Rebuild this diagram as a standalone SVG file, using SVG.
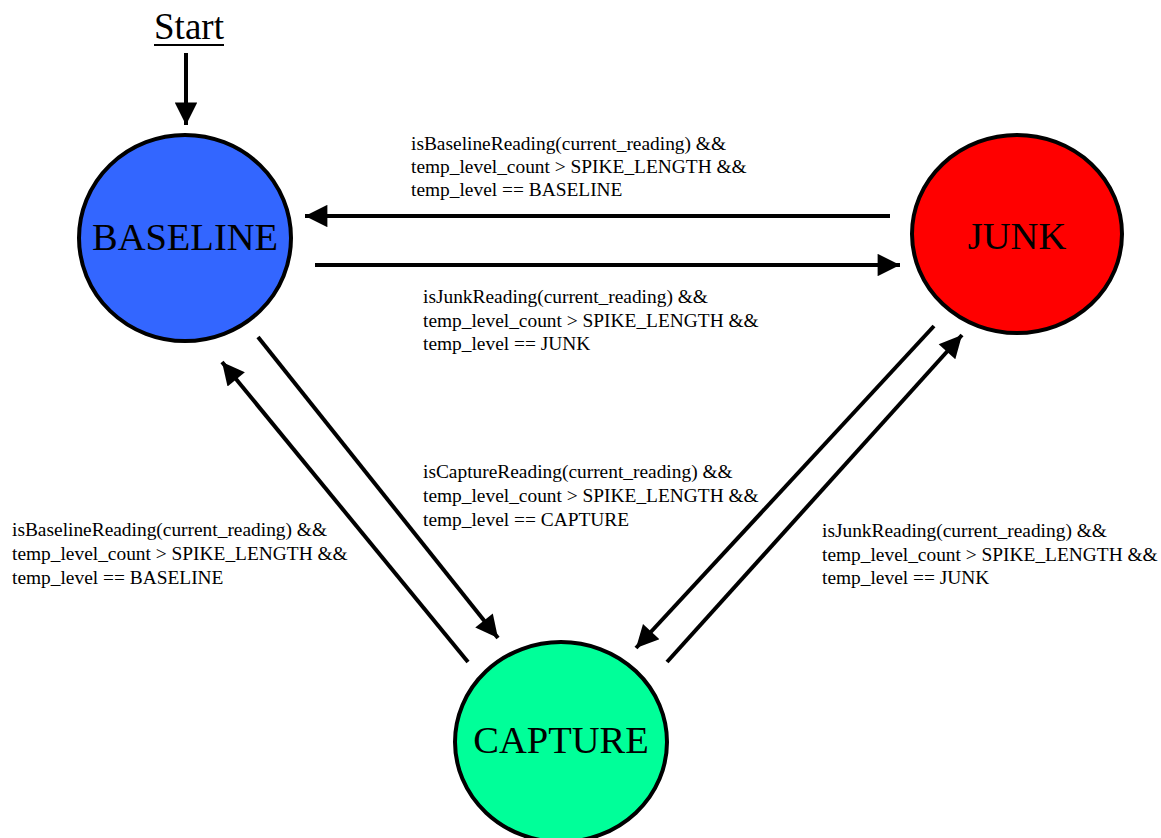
<svg xmlns="http://www.w3.org/2000/svg" width="1161" height="838" viewBox="0 0 1161 838">
<defs>
<marker id="ah" viewBox="0 0 10 10" refX="10" refY="5" markerWidth="6.2" markerHeight="5.6" markerUnits="strokeWidth" orient="auto">
<path d="M0,0 L10,5 L0,10 z" fill="#000"/>
</marker>
<style>
.st{stroke:#000;stroke-width:4;}
.nt{font-family:'Liberation Serif','Times New Roman',serif;font-size:38.5px;fill:#000;text-anchor:middle;}
.lb{font-family:'Liberation Serif','Times New Roman',serif;font-size:19.4px;fill:#000;}
.cn{stroke:#000;stroke-width:4;fill:none;marker-end:url(#ah);}
</style>
</defs>
<rect width="1161" height="838" fill="#fff"/>
<g id="start">
<text x="189" y="39" class="nt" style="font-size:37px">Start</text>
<line x1="154" y1="45" x2="224" y2="45" stroke="#000" stroke-width="2"/>
</g>
<g id="baseline">
<ellipse cx="185" cy="238" rx="106" ry="103" fill="#3366FF" class="st"/>
<text x="185" y="250" class="nt">BASELINE</text>
</g>
<g id="junk">
<ellipse cx="1017" cy="234" rx="105" ry="99" fill="#FF0000" class="st"/>
<text x="1017" y="249" class="nt">JUNK</text>
</g>
<g id="capture">
<ellipse cx="561" cy="742" rx="106" ry="100" fill="#00FF99" class="st"/>
<text x="561" y="753" class="nt">CAPTURE</text>
</g>
<g id="connectors">
<line x1="186" y1="53" x2="186" y2="125" class="cn"/>
<line x1="890" y1="216" x2="305" y2="216" class="cn"/>
<line x1="315" y1="265" x2="900" y2="265" class="cn"/>
<line x1="258" y1="337" x2="498" y2="638" class="cn"/>
<line x1="468" y1="662" x2="222" y2="362" class="cn"/>
<line x1="934" y1="326" x2="636" y2="648" class="cn"/>
<line x1="667" y1="662" x2="962" y2="335" class="cn"/>
</g>
<g id="labels">
<text class="lb" x="411" y="150">isBaselineReading(current_reading) &amp;&amp;</text>
<text class="lb" x="411" y="173">temp_level_count &gt; SPIKE_LENGTH &amp;&amp;</text>
<text class="lb" x="411" y="196">temp_level == BASELINE</text>
<text class="lb" x="423" y="303">isJunkReading(current_reading) &amp;&amp;</text>
<text class="lb" x="423" y="327">temp_level_count &gt; SPIKE_LENGTH &amp;&amp;</text>
<text class="lb" x="423" y="350">temp_level == JUNK</text>
<text class="lb" x="423" y="478">isCaptureReading(current_reading) &amp;&amp;</text>
<text class="lb" x="423" y="502">temp_level_count &gt; SPIKE_LENGTH &amp;&amp;</text>
<text class="lb" x="423" y="526">temp_level == CAPTURE</text>
<text class="lb" x="12" y="536">isBaselineReading(current_reading) &amp;&amp;</text>
<text class="lb" x="12" y="560">temp_level_count &gt; SPIKE_LENGTH &amp;&amp;</text>
<text class="lb" x="12" y="584">temp_level == BASELINE</text>
<text class="lb" x="822" y="537">isJunkReading(current_reading) &amp;&amp;</text>
<text class="lb" x="822" y="561">temp_level_count &gt; SPIKE_LENGTH &amp;&amp;</text>
<text class="lb" x="822" y="584">temp_level == JUNK</text>
</g>
</svg>
